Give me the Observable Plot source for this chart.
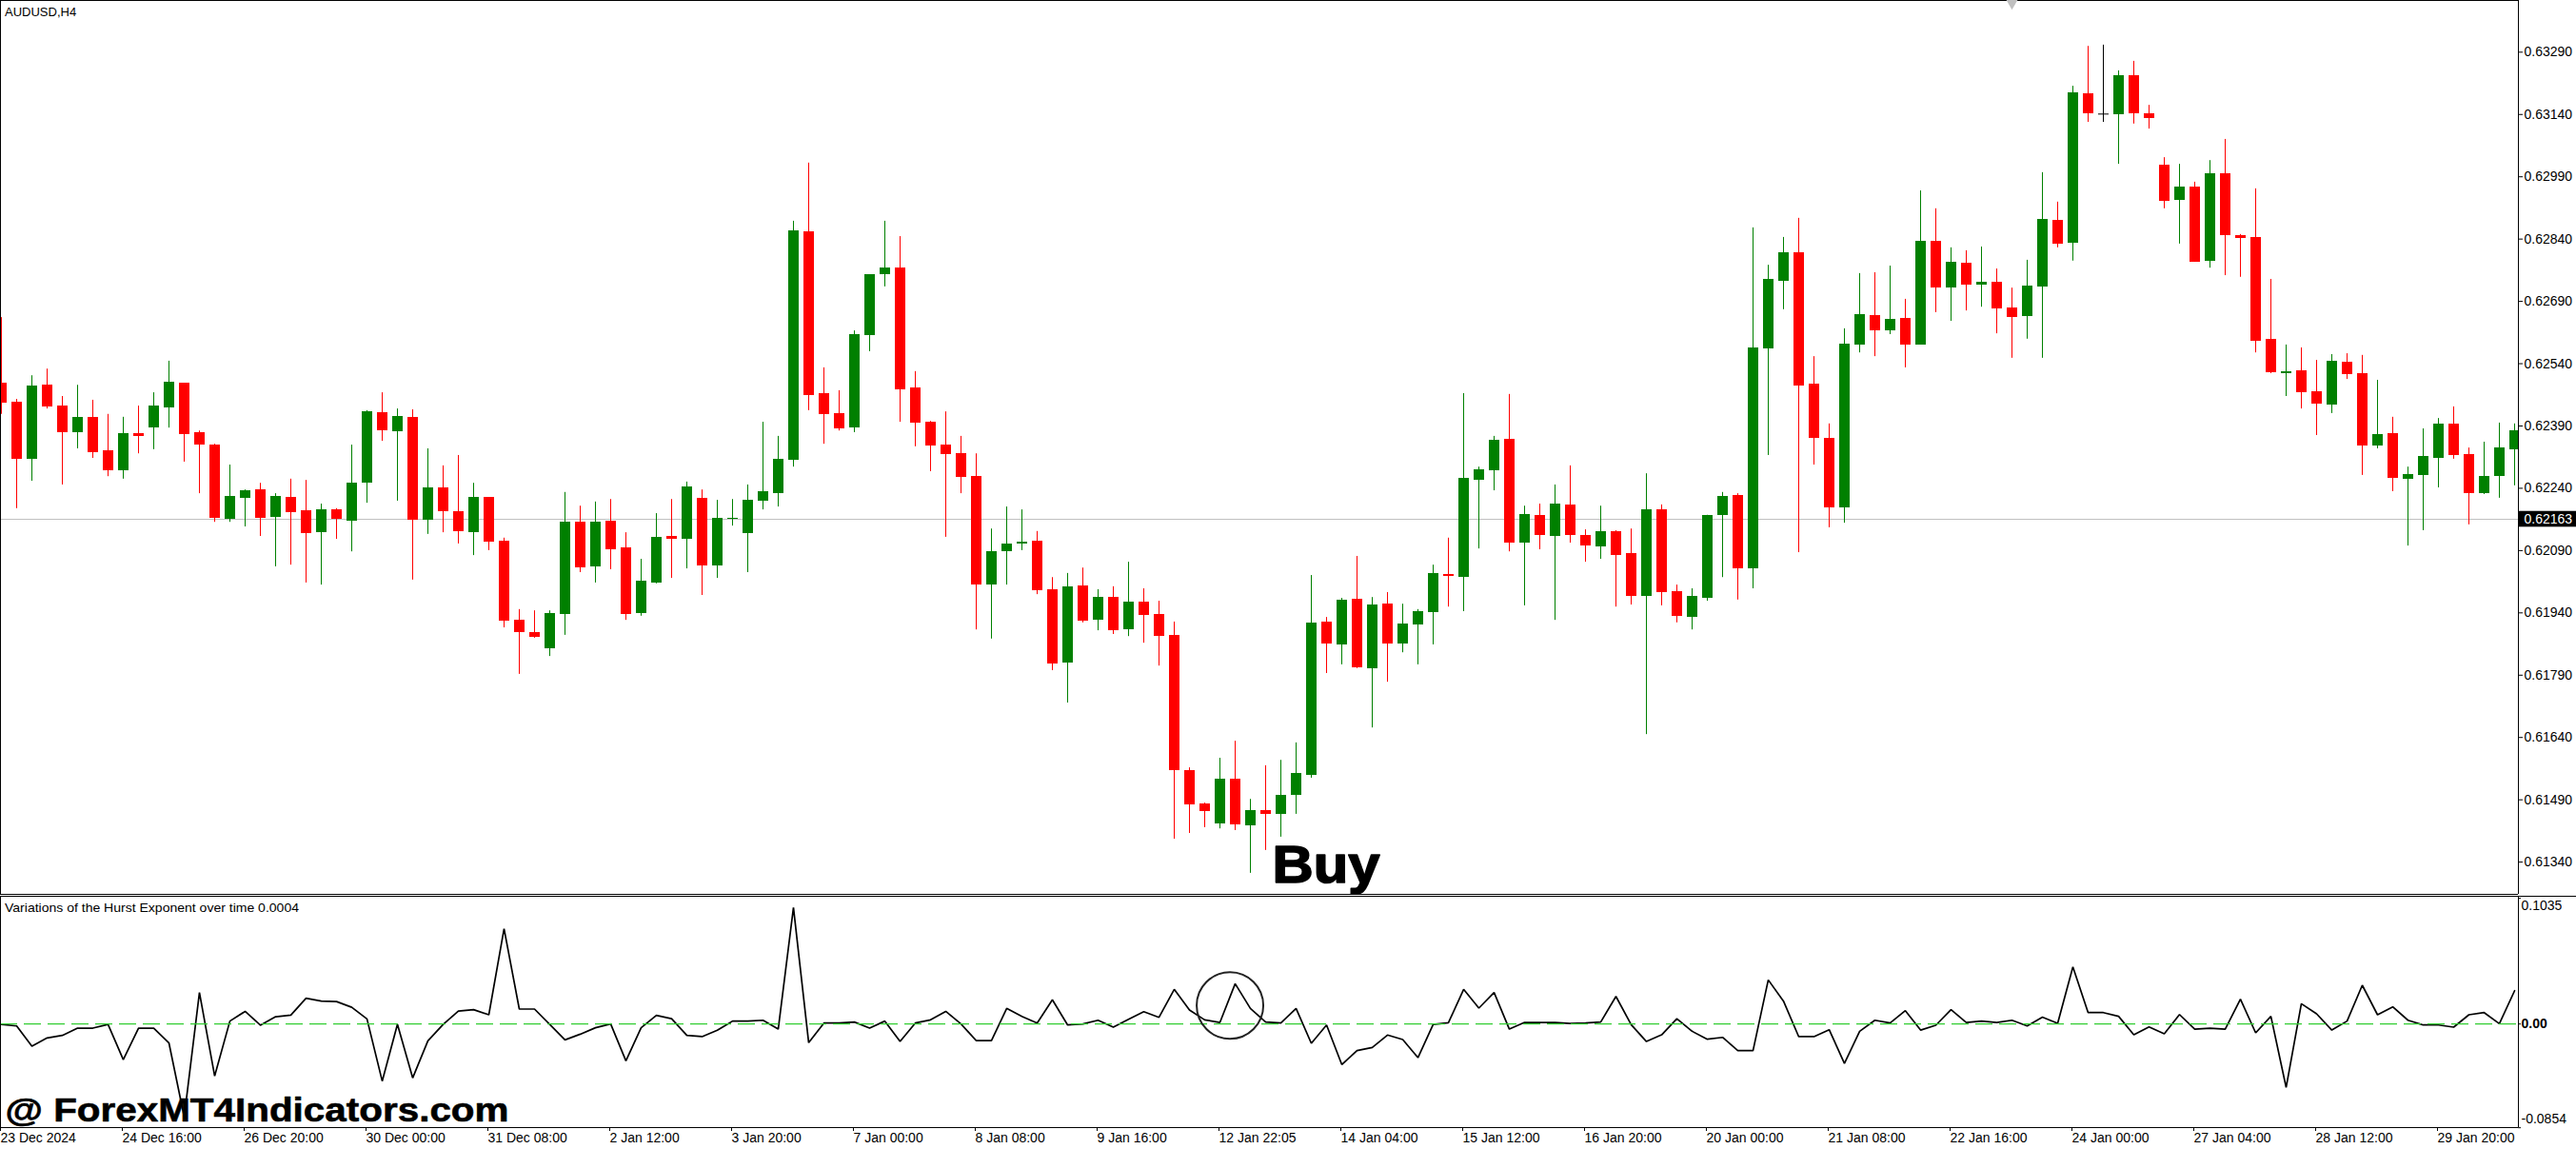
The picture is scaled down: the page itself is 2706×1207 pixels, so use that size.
<!DOCTYPE html>
<html>
<head>
<meta charset="utf-8">
<script src="https://cdn.jsdelivr.net/npm/d3@7"></script>
<script src="https://cdn.jsdelivr.net/npm/@observablehq/plot@0.6"></script>
<style>
html,body{margin:0;padding:0;background:#fff;}
svg{display:block;}
</style>
</head>
<body>
<div id="chart"></div>
<script>
// Prices in 1/100000 units
const high = [62651,62454,62511,62527,62461,62488,62452,62418,62411,62438,
62470,62546,62493,62378,62346,62296,62236,62252,62227,62262,
62259,62202,62191,62344,62427,62470,62431,62429,62335,62294,
62319,62252,62218,62120,61948,61945,61945,62230,62197,62207,
62213,62133,62069,62179,62213,62255,62236,62211,62213,62248,
62399,62365,62883,63023,62530,62475,62619,62754,62883,62846,
62521,62401,62424,62365,62323,62142,62195,62188,62136,62025,
62035,62048,61996,62003,62062,61998,61968,61918,61567,61482,
61590,61631,61491,61572,61585,61627,62030,61929,61975,62076,
61977,61989,61961,61948,62055,62120,62468,62291,62365,62466,
62197,62202,62248,62294,62140,62197,62138,62142,62275,62200,
62007,61998,62175,62230,62227,62867,62777,62844,62890,62557,
62395,62624,62757,62759,62775,62695,62956,62913,62819,62812,
62821,62768,62722,62789,63000,62929,63208,63304,63307,63245,
63268,63162,63036,63020,62977,63029,63080,62851,62961,62743,
62585,62578,62548,62562,62564,62560,62500,62411,62291,62383,
62408,62436,62337,62351,62397,62395];
const low = [62418,62191,62257,62431,62248,62335,62312,62268,62262,62323,
62333,62385,62303,62227,62158,62158,62147,62124,62051,62055,
62012,62007,62117,62087,62204,62353,62209,62019,62129,62133,
62106,62078,62090,61904,61792,61879,61835,61886,62037,62012,
62044,61922,61932,62010,62023,62046,61982,62023,62149,62037,
62188,62195,62291,62427,62346,62378,62374,62569,62725,62399,
62340,62280,62122,62227,61899,61877,62007,62090,61984,61801,
61723,61916,61897,61888,61883,61867,61812,61395,61409,61423,
61420,61416,61313,61368,61400,61455,61542,61794,61815,61806,
61663,61773,61844,61815,61863,61954,61943,62094,62234,62087,
61957,62092,61922,62108,62062,62069,61954,61959,61647,61957,
61916,61899,61968,62025,61971,61998,62319,62670,62085,62296,
62145,62156,62566,62557,62610,62530,62585,62663,62642,62667,
62676,62612,62553,62599,62553,62819,62787,63121,63121,63020,
63117,63105,62913,62828,62784,62770,62752,62748,62566,62516,
62461,62431,62367,62420,62502,62271,62335,62232,62101,62138,
62241,62310,62152,62225,62216,62246];
const open = [62493,62447,62310,62488,62438,62374,62411,62330,62282,62372,
62385,62434,62493,62374,62344,62165,62216,62236,62170,62218,
62186,62133,62188,62161,62252,62422,62376,62411,62163,62241,
62184,62133,62218,62113,61922,61893,61854,61936,62158,62051,
62161,62097,61938,62012,62124,62117,62216,62053,62165,62131,
62209,62227,62307,62858,62468,62420,62385,62608,62754,62770,
62482,62399,62344,62323,62268,62007,62087,62106,62113,61996,
61819,62005,61922,61977,61899,61966,61936,61886,61560,61480,
61432,61540,61427,61464,61455,61501,61549,61918,61863,61973,
61806,61961,61865,61911,61941,62032,62025,62259,62282,62358,
62108,62175,62124,62200,62126,62099,62136,62083,61980,62188,
61991,61929,61975,62175,62223,62046,62576,62738,62807,62491,
62360,62193,62585,62656,62619,62649,62585,62835,62722,62782,
62729,62736,62674,62654,62725,62885,62830,63190,63141,63139,
63233,63142,63018,62933,62965,62786,62997,62848,62844,62599,
62516,62523,62472,62440,62544,62516,62342,62372,62262,62271,
62312,62395,62321,62227,62268,62333];
const close = [62445,62310,62486,62436,62374,62411,62326,62282,62372,62365,
62438,62495,62369,62344,62168,62220,62234,62168,62220,62181,
62131,62188,62165,62252,62424,62378,62413,62163,62241,62184,
62136,62218,62110,61920,61893,61881,61938,62158,62048,62158,
62092,61936,62016,62122,62117,62243,62053,62168,62168,62211,
62232,62310,62860,62463,62418,62383,62610,62754,62770,62477,
62397,62342,62321,62266,62007,62087,62106,62110,61993,61817,
62003,61920,61977,61897,61966,61934,61883,61560,61478,61462,
61540,61430,61464,61455,61501,61553,61916,61865,61971,61808,
61959,61865,61913,61943,62035,62028,62264,62285,62356,62108,
62177,62126,62202,62126,62101,62136,62078,61980,62188,61989,
61932,61980,62175,62220,62046,62578,62743,62807,62486,62360,
62193,62587,62658,62619,62647,62585,62835,62722,62784,62729,
62736,62672,62651,62727,62887,62828,63192,63142,63141,63233,
63142,63130,62931,62965,62784,62997,62848,62841,62594,62518,
62521,62470,62443,62546,62514,62342,62369,62264,62273,62317,
62395,62319,62227,62268,62337,62378];
// Hurst exponent variation, in 1/10000 units
const hurst = [-3,-16,-183,-115,-94,-34,-34,-3,-293,-34,
-34,-157,-765,259,-428,24,104,-10,60,73,
212,188,185,138,42,-470,-3,-444,-138,-3,
107,118,76,784,123,123,-3,-131,-84,-31,
0,-303,-31,71,44,-94,-104,-52,24,24,
31,-42,959,-154,8,8,16,-34,24,-144,
8,34,104,0,-136,-136,128,63,8,199,
-8,0,31,-26,39,102,55,285,115,34,
13,332,128,16,8,128,-159,-8,-334,-219,
-193,-91,-128,-277,-3,10,285,131,259,-42,
13,13,13,5,8,16,227,-5,-144,-89,
44,-60,-125,-110,-219,-219,363,188,-104,-104,
-47,-324,-60,31,8,110,-50,-10,118,13,
24,13,31,-16,57,5,470,94,94,63,
-89,-24,-81,78,-42,-34,-42,204,-73,63,
-522,167,84,-50,24,319,76,141,31,-8,
-8,-26,76,94,3,274];

const priceTicks = [0.6329,0.6314,0.6299,0.6284,0.6269,0.6254,0.6239,0.6224,0.6209,0.6194,0.6179,0.6164,0.6149,0.6134];
const currentPrice = 0.62163;
const dateTickIndex = [0,8,16,24,32,40,48,56,64,72,80,88,96,104,112,120,128,136,144,152,160];
const dateTickLabels = ["23 Dec 2024","24 Dec 16:00","26 Dec 20:00","30 Dec 00:00","31 Dec 08:00","2 Jan 12:00","3 Jan 20:00","7 Jan 00:00","8 Jan 08:00","9 Jan 16:00","12 Jan 22:05","14 Jan 04:00","15 Jan 12:00","16 Jan 20:00","20 Jan 00:00","21 Jan 08:00","22 Jan 16:00","24 Jan 00:00","27 Jan 04:00","28 Jan 12:00","29 Jan 20:00"];
const hurstTicks = [0.1035,0,-0.0854];
const hurstTickLabels = ["0.1035","0.00","-0.0854"];

const W = 2706, RIGHT = 2645;
const FONT = '"Liberation Sans", Arial, sans-serif';
const xDomain = [-1/16, (RIGHT-1)/16];
const xOf = px => (px-1)/16;
const bars = high.map((h,i)=>({
  i, high:h/1e5, low:low[i]/1e5, open:open[i]/1e5, close:close[i]/1e5,
  dir: close[i]>open[i] ? "up" : close[i]<open[i] ? "down" : "flat"
}));
const colorScale = {domain:["up","down","flat"], range:["#008000","#ff0000","#000000"]};
const yTop = 63414.5/1e5, yBottom = (63414.5-2.292*939)/1e5;

function stretch(len){
  return (index,scales,values,dims,ctx,next)=>{
    const g = next(index,scales,values,dims,ctx);
    d3.select(g).selectAll("text").attr("textLength",len).attr("lengthAdjust","spacingAndGlyphs");
    return g;
  };
}

const pricePlot = Plot.plot({
  width:W, height:940, marginLeft:0, marginRight:W-RIGHT, marginTop:0, marginBottom:1,
  style:{fontFamily:FONT, background:"#fff", color:"#000"},
  x:{type:"linear", domain:xDomain, range:[0,RIGHT], axis:null},
  y:{type:"linear", domain:[yBottom,yTop], range:[939,0], axis:null},
  color:colorScale,
  marks:[
    Plot.ruleY([currentPrice],{x1:xDomain[0],x2:xDomain[1],stroke:"#c0c0c0",strokeWidth:1,dy:-1}),
    Plot.ruleX(bars,{x:"i",y1:"low",y2:"high",stroke:"dir",strokeWidth:1,clip:true}),
    Plot.rect(bars,{x1:d=>d.i-5/16,x2:d=>d.i+6/16,y1:"open",y2:"close",fill:"dir",clip:true,shapeRendering:"crispEdges"}),
    Plot.ruleY(bars.filter(d=>d.dir==="flat"),{y:"open",x1:d=>d.i-5/16,x2:d=>d.i+6/16,stroke:"dir",strokeWidth:1}),
    Plot.ruleX([xDomain[0],xDomain[1]],{y1:yBottom,y2:yTop,stroke:"#000",strokeWidth:1}),
    Plot.ruleY([yTop,yBottom],{x1:xDomain[0],x2:xDomain[1],stroke:"#000",strokeWidth:1}),
    Plot.axisY(priceTicks,{anchor:"right",tickSize:4,tickPadding:2,tickFormat:d3.format(".5f"),label:null,fontSize:14,fill:"#000",stroke:"#000"}),
    Plot.rect([currentPrice],{x1:xOf(2646),x2:xOf(2706),y1:d=>d-0.00019,y2:d=>d+0.00019,fill:"#000",dy:-1}),
    Plot.text([currentPrice],{x:xOf(2651),y:d=>d,text:d=>d3.format(".5f")(d),fill:"#fff",fontSize:14,textAnchor:"start",dy:-1}),
    Plot.text(["AUDUSD,H4"],{x:xOf(4.5),y:yTop-12*2.292/1e5,text:d=>d,fontSize:13,textAnchor:"start",fill:"#000"}),
    Plot.text(["Buy"],{x:xOf(1336),y:0.6129,text:d=>d,fontSize:56,fontWeight:"bold",textAnchor:"start",lineAnchor:"bottom",fill:"#000",stroke:"#000",strokeWidth:1.6,render:stretch(113)}),
    Plot.dot([xOf(2113)],{x:d=>d,y:yTop-2*2.292/1e5,symbol:"triangle",rotate:180,r:5,fill:"#c0c0c0",stroke:"none"})
  ]
});

const hurstData = hurst.map((v,i)=>({i,v:v/1e4}));
const h1 = 0.10517, h0 = -0.08527;
const hurstPlot = Plot.plot({
  width:W, height:267, marginLeft:0, marginRight:W-RIGHT, marginTop:1, marginBottom:23,
  style:{fontFamily:FONT, background:"#fff", color:"#000"},
  x:{type:"linear", domain:xDomain, range:[0,RIGHT], axis:null},
  y:{type:"linear", domain:[h0,h1], range:[244,1], axis:null},
  marks:[
    Plot.line(hurstData,{x:"i",y:"v",stroke:"#000",strokeWidth:1.7,strokeLinejoin:"miter"}),
    Plot.ruleY([0],{x1:xDomain[0],x2:xDomain[1],stroke:"#32cd32",strokeWidth:1.2,strokeDasharray:"18,7"}),
    Plot.dot([{x:80.66,y:0.0152}],{x:"x",y:"y",r:35,stroke:"#222",strokeWidth:2,fill:"none"}),
    Plot.ruleX([xDomain[0],xDomain[1]],{y1:h0,y2:h1,stroke:"#000",strokeWidth:1}),
    Plot.ruleY([h1],{x1:xDomain[0],x2:xOf(W),stroke:"#000",strokeWidth:1}),
    Plot.ruleY([h0],{x1:xDomain[0],x2:xDomain[1],stroke:"#000",strokeWidth:1}),
    Plot.ruleY(hurstTicks,{x1:xDomain[1],x2:xOf(RIGHT+3),stroke:"#000",strokeWidth:1}),
    Plot.axisX(dateTickIndex,{anchor:"bottom",tickSize:4,tickPadding:2,textAnchor:"start",dx:-1,fontSize:14,label:null,fill:"#000",stroke:"#000",
      tickFormat:d=>dateTickLabels[dateTickIndex.indexOf(d)]}),
    Plot.text([hurstTickLabels[0]],{x:xOf(2648),y:hurstTicks[0],text:d=>d,fontSize:14,textAnchor:"start",lineAnchor:"top",dy:2,fill:"#000"}),
    Plot.text([hurstTickLabels[1]],{x:xOf(2648),y:hurstTicks[1],text:d=>d,fontSize:14,textAnchor:"start",fill:"#000",fontWeight:600}),
    Plot.text([hurstTickLabels[2]],{x:xOf(2648),y:hurstTicks[2],text:d=>d,fontSize:14,textAnchor:"start",lineAnchor:"bottom",dy:-5,fill:"#000"}),
    Plot.text(["Variations of the Hurst Exponent over time 0.0004"],{x:xOf(4.5),y:h1-12.5/1276,text:d=>d,fontSize:13,textAnchor:"start",fill:"#000",render:stretch(309)}),
    Plot.text(["@ ForexMT4Indicators.com"],{x:xOf(5),y:-0.0798,text:d=>d,fontSize:35,fontWeight:"bold",textAnchor:"start",lineAnchor:"bottom",fill:"#000",stroke:"#000",strokeWidth:0.6,render:stretch(529)})
  ]
});

const root = document.getElementById("chart");
root.appendChild(pricePlot);
root.appendChild(hurstPlot);
</script>
</body>
</html>
